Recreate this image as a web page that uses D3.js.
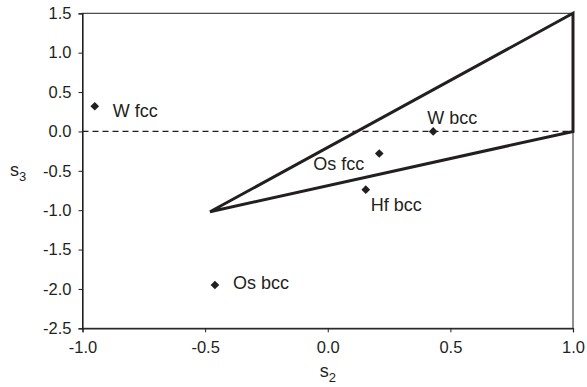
<!DOCTYPE html>
<html>
<head>
<meta charset="utf-8">
<script src="https://cdn.jsdelivr.net/npm/d3@7"></script>
<style>
  html, body { margin: 0; padding: 0; background: #fff; }
  svg { display: block; font-family: "Liberation Sans", Arial, sans-serif; }
</style>
</head>
<body>
<svg id="chart" width="587" height="387"></svg>
<script>
// Structures (s2, s3 order parameters)
const names = ["W fcc", "W bcc", "Os fcc", "Hf bcc", "Os bcc"];
const s2Values = [-0.95, 0.43, 0.21, 0.155, -0.46];
const s3Values = [0.32, 0.0, -0.28, -0.74, -1.95];

// Triangle boundary (s2, s3)
const triS2 = [-0.48, 1.0, 1.0];
const triS3 = [-1.02, 1.5, 0.0];

const xTicks = [-1.0, -0.5, 0.0, 0.5, 1.0];
const yTicks = [1.5, 1.0, 0.5, 0.0, -0.5, -1.0, -1.5, -2.0, -2.5];

const svg = d3.select("#chart");
const plotL = 82.5, plotR = 573, plotT = 13.3, plotB = 328.3;
const ink = "#231f20";

const x = d3.scaleLinear().domain([-1, 1]).range([plotL, plotR]);
const y = d3.scaleLinear().domain([-2.5, 1.5]).range([plotB, plotT]);

// frame
svg.append("rect")
  .attr("x", plotL).attr("y", plotT)
  .attr("width", plotR - plotL).attr("height", plotB - plotT)
  .attr("fill", "none").attr("stroke", ink).attr("stroke-width", 1);

// one decimal, plain hyphen for negatives
const fmt = d => d3.format(".1f")(d).replace("\u2212", "-");

const xAxis = svg.append("g")
  .attr("transform", `translate(0,${plotB})`)
  .call(d3.axisBottom(x).tickValues(xTicks).tickFormat(fmt).tickSize(4).tickPadding(9));
const yAxis = svg.append("g")
  .attr("transform", `translate(${plotL},0)`)
  .call(d3.axisLeft(y).tickValues(yTicks).tickFormat(fmt).tickSize(4).tickPadding(7));

[xAxis, yAxis].forEach(g => {
  g.select(".domain").attr("stroke", ink).attr("stroke-width", 1.2);
  g.selectAll(".tick line").attr("stroke", ink).attr("stroke-width", 1);
  g.selectAll(".tick text")
    .attr("fill", ink)
    .style("font-size", "16.5px")
    .style("font-family", "'Liberation Sans', Arial, sans-serif");
});

// dashed zero line
svg.append("line")
  .attr("x1", x(-1)).attr("x2", x(1))
  .attr("y1", y(0)).attr("y2", y(0))
  .attr("stroke", ink).attr("stroke-width", 1.3)
  .attr("stroke-dasharray", "6,4");

// triangle
const tri = triS2.map((s, i) => [s, triS3[i]]);
svg.append("path")
  .attr("d", d3.line().x(d => x(d[0])).y(d => y(d[1]))(tri) + "Z")
  .attr("fill", "none")
  .attr("stroke", ink)
  .attr("stroke-width", 3)
  .attr("stroke-linejoin", "miter");

// points
const pts = names.map((n, i) => ({ name: n, s2: s2Values[i], s3: s3Values[i] }));
svg.selectAll("path.pt")
  .data(pts)
  .join("path")
  .attr("class", "pt")
  .attr("d", d3.symbol(d3.symbolDiamond2, 48)())
  .attr("transform", d => `translate(${x(d.s2)},${y(d.s3)})`)
  .attr("fill", ink);

// point labels, offset from the marker in pixels
const labelOffset = {
  "W fcc": [18, 11],
  "W bcc": [-6, -7],
  "Os fcc": [-66, 17],
  "Hf bcc": [5, 21],
  "Os bcc": [18, 4]
};
svg.selectAll("text.lbl")
  .data(pts)
  .join("text")
  .attr("class", "lbl")
  .attr("x", d => x(d.s2) + labelOffset[d.name][0])
  .attr("y", d => y(d.s3) + labelOffset[d.name][1])
  .attr("fill", ink)
  .style("font-size", "18px")
  .text(d => d.name);

// axis titles with subscripts
const xt = svg.append("text")
  .attr("x", x(0)).attr("y", 377)
  .attr("text-anchor", "middle")
  .attr("fill", ink).style("font-size", "18px");
xt.append("tspan").text("s");
xt.append("tspan").attr("dy", 5).style("font-size", "13px").text("2");

const yt = svg.append("text")
  .attr("x", 10).attr("y", 176)
  .attr("fill", ink).style("font-size", "18px");
yt.append("tspan").text("s");
yt.append("tspan").attr("dy", 5).style("font-size", "13px").text("3");
</script>
</body>
</html>
